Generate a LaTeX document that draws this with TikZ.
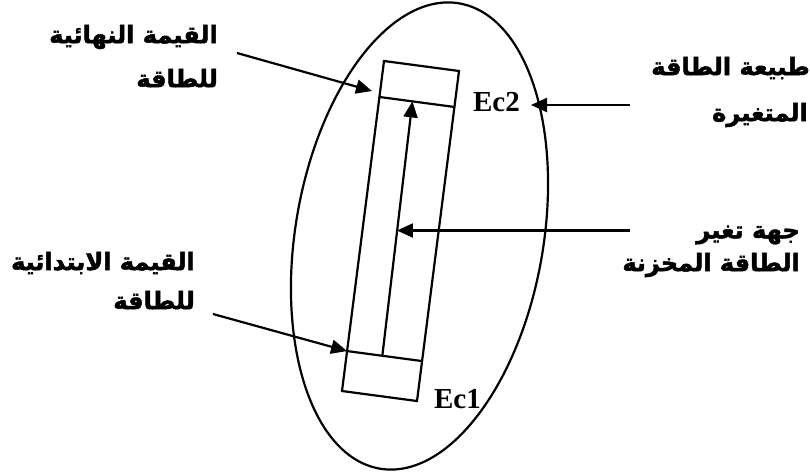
\documentclass[tikz,border=0pt]{standalone}
\usepackage{fontspec}
\usetikzlibrary{arrows.meta,calc}
\TeXXeTstate=1
\newfontfamily\arabicfont[Script=Arabic,BoldFeatures={FakeBold=2}]{DejaVu Sans}
\newfontfamily\latinserif{Liberation Serif}
\tikzset{
  ln/.style={line width=2.2pt},
  arr/.style={ln,-{Triangle[length=16pt,width=14pt]}},
  artext/.style={inner sep=0pt,anchor=east,font=\arabicfont\bfseries\fontsize{24}{28}\selectfont},
  ectext/.style={inner sep=0pt,font=\latinserif\bfseries\fontsize{29}{32}\selectfont}
}
\begin{document}
\begin{tikzpicture}[x=1pt,y=-1pt]
\useasboundingbox (0,0) rectangle (810,475);
% ellipse
\coordinate (C) at (419.5,236);
\draw[ln,rotate around={-9.7:(C)}] (C) ellipse [x radius=124pt, y radius=236pt];
% tilted bar
\coordinate (A) at (384,61);
\coordinate (B) at (459,71);
\coordinate (R) at (417,401);
\coordinate (D) at (342,391);
\draw[ln] (A) -- (B) -- (R) -- (D) -- cycle;
\coordinate (T1) at ($(A)!0.109!(D)$);
\coordinate (T2) at ($(B)!0.109!(R)$);
\coordinate (S1) at ($(A)!0.879!(D)$);
\coordinate (S2) at ($(B)!0.879!(R)$);
\draw[ln] (T1) -- (T2);
\draw[ln] (S1) -- (S2);
\coordinate (P0) at ($(S1)!0.47!(S2)$);
\coordinate (P1) at ($(T1)!0.44!(T2)$);
\draw[arr] (P0) -- (P1);
% labels
\node[ectext] (ec2) at (496.5,102.5) {Ec2};
\node[ectext] (ec1) at (457.5,399) {Ec1};
\node[artext] (l1a) at (218,37) {\beginR القيمة النهائية\endR};
\node[artext] (l1b) at (218,78) {\beginR للطاقة\endR};
\node[artext] (l2a) at (810,68) {\beginR طبيعة الطاقة\endR};
\node[artext] (l2b) at (808,115) {\beginR المتغيرة\endR};
\node[artext] (l3a) at (800,235) {\beginR جهة تغير\endR};
\node[artext] (l3b) at (800,265) {\beginR الطاقة المخزنة\endR};
\node[artext] (l4a) at (195,263) {\beginR القيمة الابتدائية\endR};
\node[artext] (l4b) at (195,300) {\beginR للطاقة\endR};
% arrows
\coordinate (a1s) at (237,53);
\coordinate (a1e) at (372,91);
\draw[arr] (a1s) -- (a1e);
\coordinate (a2s) at (630,105);
\coordinate (a2e) at (531,105);
\draw[arr] (a2s) -- (a2e);
\coordinate (a3s) at (630,230.5);
\coordinate (a3e) at ($(P0)!0.486!(P1)$);
\draw[arr] (a3s) -- (a3s -| a3e);
\coordinate (a4s) at (213,314);
\draw[arr] (a4s) -- (S1);
\end{tikzpicture}
\end{document}
